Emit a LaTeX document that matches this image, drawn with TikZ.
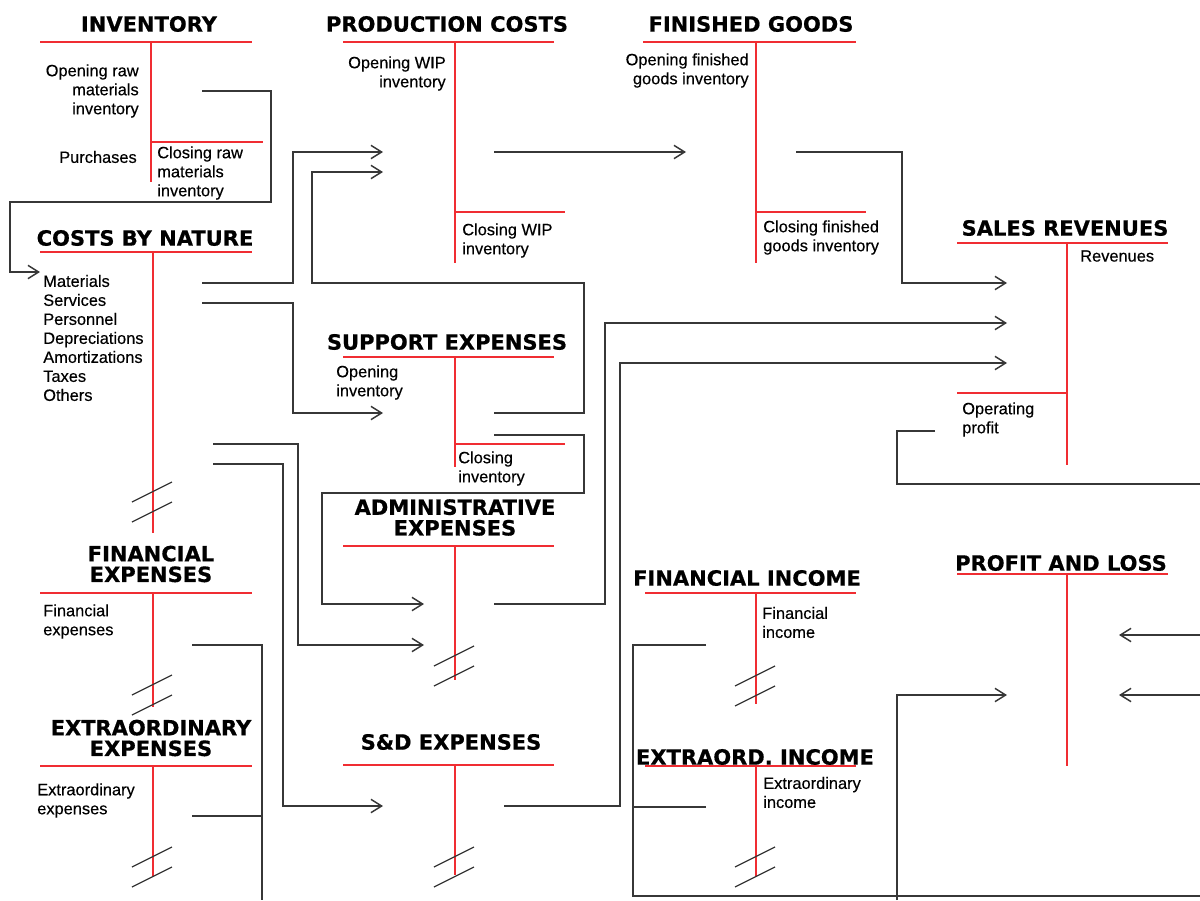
\documentclass[tikz,border=0pt]{standalone}
\usepackage{fontspec}
\setmainfont{Liberation Sans}[FakeBold=0.35]
\newfontfamily\headfont{DejaVu Sans}[BoldFeatures={FakeBold=0.6}]
\usetikzlibrary{arrows.meta}

\definecolor{acctred}{RGB}{240,45,50}
\definecolor{flowgray}{RGB}{55,55,55}

\tikzset{
  head/.style={font=\headfont\bfseries\fontsize{15.75}{15.5}\selectfont, align=center, inner sep=0pt},
  item/.style={font=\fontsize{12.3}{14.25}\selectfont, inner sep=0pt},
  acct/.style={draw=acctred, line width=1.1pt},
  flow/.style={draw=flowgray, line width=1.2pt},
  into/.style={flow, -{Straight Barb[length=8pt,width=10pt,line width=1.1pt]}},
  cut/.style={draw=flowgray, line width=0.9pt}
}

% two slashes across an account line
\newcommand{\cutmark}[2]{
  \draw[cut] (#1-20,#2+10) -- (#1+20,#2-10);
  \draw[cut] (#1-20,#2-10) -- (#1+20,#2-30);
}

\begin{document}
\begin{tikzpicture}[x=0.75pt, y=-0.75pt]
    \useasboundingbox (0,0) rectangle (1200,900);

    % titles
    \node[head] (inventory) at (149,24) {INVENTORY};
    \node[head] (production) at (447,24) {PRODUCTION COSTS};
    \node[head] (finished) at (751,24) {FINISHED GOODS};
    \node[head] (nature) at (145,238) {COSTS BY NATURE};
    \node[head] (sales) at (1065,228) {SALES REVENUES};
    \node[head] (support) at (447,342) {SUPPORT EXPENSES};
    \node[head] (admin) at (455,517.5) {ADMINISTRATIVE\\EXPENSES};
    \node[head] (finexp) at (151,564) {FINANCIAL\\EXPENSES};
    \node[head] (extraexp) at (151,738) {EXTRAORDINARY\\EXPENSES};
    \node[head] (selling) at (451,742) {S\&D EXPENSES};
    \node[head] (fininc) at (747,578) {FINANCIAL INCOME};
    \node[head] (extrainc) at (755,757) {EXTRAORD. INCOME};
    \node[head] (pandl) at (1061,563) {PROFIT AND LOSS};

    % accounts
    \draw[acct] (40,42) -- (252,42) (151,42) -- (151,182) (151,142) -- (263,142);
    \draw[acct] (343,42) -- (554,42) (455,42) -- (455,263) (455,212) -- (565,212);
    \draw[acct] (643,42) -- (856,42) (756,42) -- (756,263) (756,212) -- (866,212);
    \draw[acct] (40,252) -- (252,252) (153,252) -- (153,533);
    \draw[acct] (957,243) -- (1168,243) (1067,243) -- (1067,465) (957,393) -- (1067,393);
    \draw[acct] (343,357) -- (554,357) (455,357) -- (455,467) (455,444) -- (565,444);
    \draw[acct] (343,546) -- (554,546) (455,546) -- (455,680);
    \draw[acct] (40,593) -- (252,593) (153,593) -- (153,707);
    \draw[acct] (40,766) -- (252,766) (153,766) -- (153,877);
    \draw[acct] (343,765) -- (554,765) (455,765) -- (455,875);
    \draw[acct] (645,593) -- (856,593) (756,593) -- (756,704);
    \draw[acct] (645,766) -- (856,766) (756,766) -- (756,876);
    \draw[acct] (957,574) -- (1168,574) (1067,574) -- (1067,766);

    \cutmark{152}{512}
    \cutmark{454}{676}
    \cutmark{152}{705}
    \cutmark{152}{877}
    \cutmark{454}{877}
    \cutmark{755}{696}
    \cutmark{755}{877}

    % entries
    \node[item, align=right, anchor=east] (rawopen) at (139,91) {Opening raw\\materials\\inventory};
    \node[item, anchor=east] (purchases) at (137,157) {Purchases};
    \node[item, align=left, anchor=west] (rawclose) at (157,173) {Closing raw\\materials\\inventory};
    \node[item, align=right, anchor=east] (wipopen) at (446,73.5) {Opening WIP\\inventory};
    \node[item, align=left, anchor=west] (wipclose) at (462,240.5) {Closing WIP\\inventory};
    \node[item, align=right, anchor=east] (fgopen) at (749,70.5) {Opening finished\\goods inventory};
    \node[item, align=left, anchor=west] (fgclose) at (763,237.5) {Closing finished\\goods inventory};
    \node[item, anchor=west] (revenues) at (1080,256) {Revenues};
    \node[item, align=left, anchor=west] (opprofit) at (962,419.5) {Operating\\profit};
    \node[item, align=left, anchor=west] (natures) at (43,338) {Materials\\Services\\Personnel\\Depreciations\\Amortizations\\Taxes\\Others};
    \node[item, align=left, anchor=west] (supopen) at (336,382.5) {Opening\\inventory};
    \node[item, align=left, anchor=west] (supclose) at (458,468.5) {Closing\\inventory};
    \node[item, align=left, anchor=west] (finexpitem) at (43,621.5) {Financial\\expenses};
    \node[item, align=left, anchor=west] (extraexpitem) at (37,800.5) {Extraordinary\\expenses};
    \node[item, align=left, anchor=west] (finincitem) at (762,622.5) {Financial\\income};
    \node[item, align=left, anchor=west] (extraincitem) at (763,792.5) {Extraordinary\\income};

    % connector ends
    \coordinate (inv-out) at (202,91);
    \coordinate (nat-in) at (40,272);
    \coordinate (nat-mat) at (202,283);
    \coordinate (nat-ser) at (202,303);
    \coordinate (nat-adm) at (213,444);
    \coordinate (nat-sd) at (213,464);
    \coordinate (prod-in1) at (383,152);
    \coordinate (prod-in2) at (383,172);
    \coordinate (prod-out) at (494,152);
    \coordinate (sup-in) at (383,413);
    \coordinate (sup-out1) at (494,413);
    \coordinate (sup-out2) at (494,435);
    \coordinate (adm-in1) at (424,604);
    \coordinate (adm-in2) at (424,645);
    \coordinate (adm-out) at (494,604);
    \coordinate (sd-in) at (383,806);
    \coordinate (sd-out) at (504,806);
    \coordinate (fg-in) at (686,152);
    \coordinate (fg-out) at (796,152);
    \coordinate (sal-in1) at (1007,283);
    \coordinate (sal-in2) at (1007,323);
    \coordinate (sal-in3) at (1007,363);
    \coordinate (sal-out) at (935,431);
    \coordinate (fe-out) at (192,645);
    \coordinate (ee-out) at (192,816);
    \coordinate (fi-out) at (706,645);
    \coordinate (ei-out) at (706,807);
    \coordinate (pl-in1) at (1007,695);
    \coordinate (pl-in2) at (1119,635);
    \coordinate (pl-in3) at (1119,695);
    \coordinate (edge-e1) at (1200,484);
    \coordinate (edge-e2) at (1200,896);
    \coordinate (edge-e3) at (1200,635);
    \coordinate (edge-e4) at (1200,695);
    \coordinate (edge-s1) at (262,900);
    \coordinate (edge-s2) at (897,900);

    % flows
    \draw[into] (inv-out) -| (271,202) -| (10,272) -- (nat-in);
    \draw[into] (nat-mat) -- ++(91,0) |- (prod-in1);
    \draw[into] (nat-ser) -- ++(91,0) |- (sup-in);
    \draw[into] (nat-adm) -- ++(85,0) |- (adm-in2);
    \draw[into] (nat-sd) -- ++(70,0) |- (sd-in);
    \draw[into] (sup-out1) -- ++(90,0) |- (312,283) |- (prod-in2);
    \draw[into] (sup-out2) -- ++(90,0) |- (322,493) |- (adm-in1);
    \draw[into] (prod-out) -- (fg-in);
    \draw[into] (fg-out) -- ++(106,0) |- (sal-in1);
    \draw[into] (adm-out) -- ++(111,0) |- (sal-in2);
    \draw[into] (sd-out) -- ++(116,0) |- (sal-in3);
    \draw[flow] (sal-out) -- ++(-38,0) |- (edge-e1);
    \draw[flow] (fe-out) -| (edge-s1);
    \draw[flow] (ee-out) -- (262,816);
    \draw[flow] (fi-out) -- ++(-73,0) |- (edge-e2);
    \draw[flow] (ei-out) -- (633,807);
    \draw[into] (edge-s2) |- (pl-in1);
    \draw[into] (edge-e3) -- (pl-in2);
    \draw[into] (edge-e4) -- (pl-in3);
\end{tikzpicture}
\end{document}
